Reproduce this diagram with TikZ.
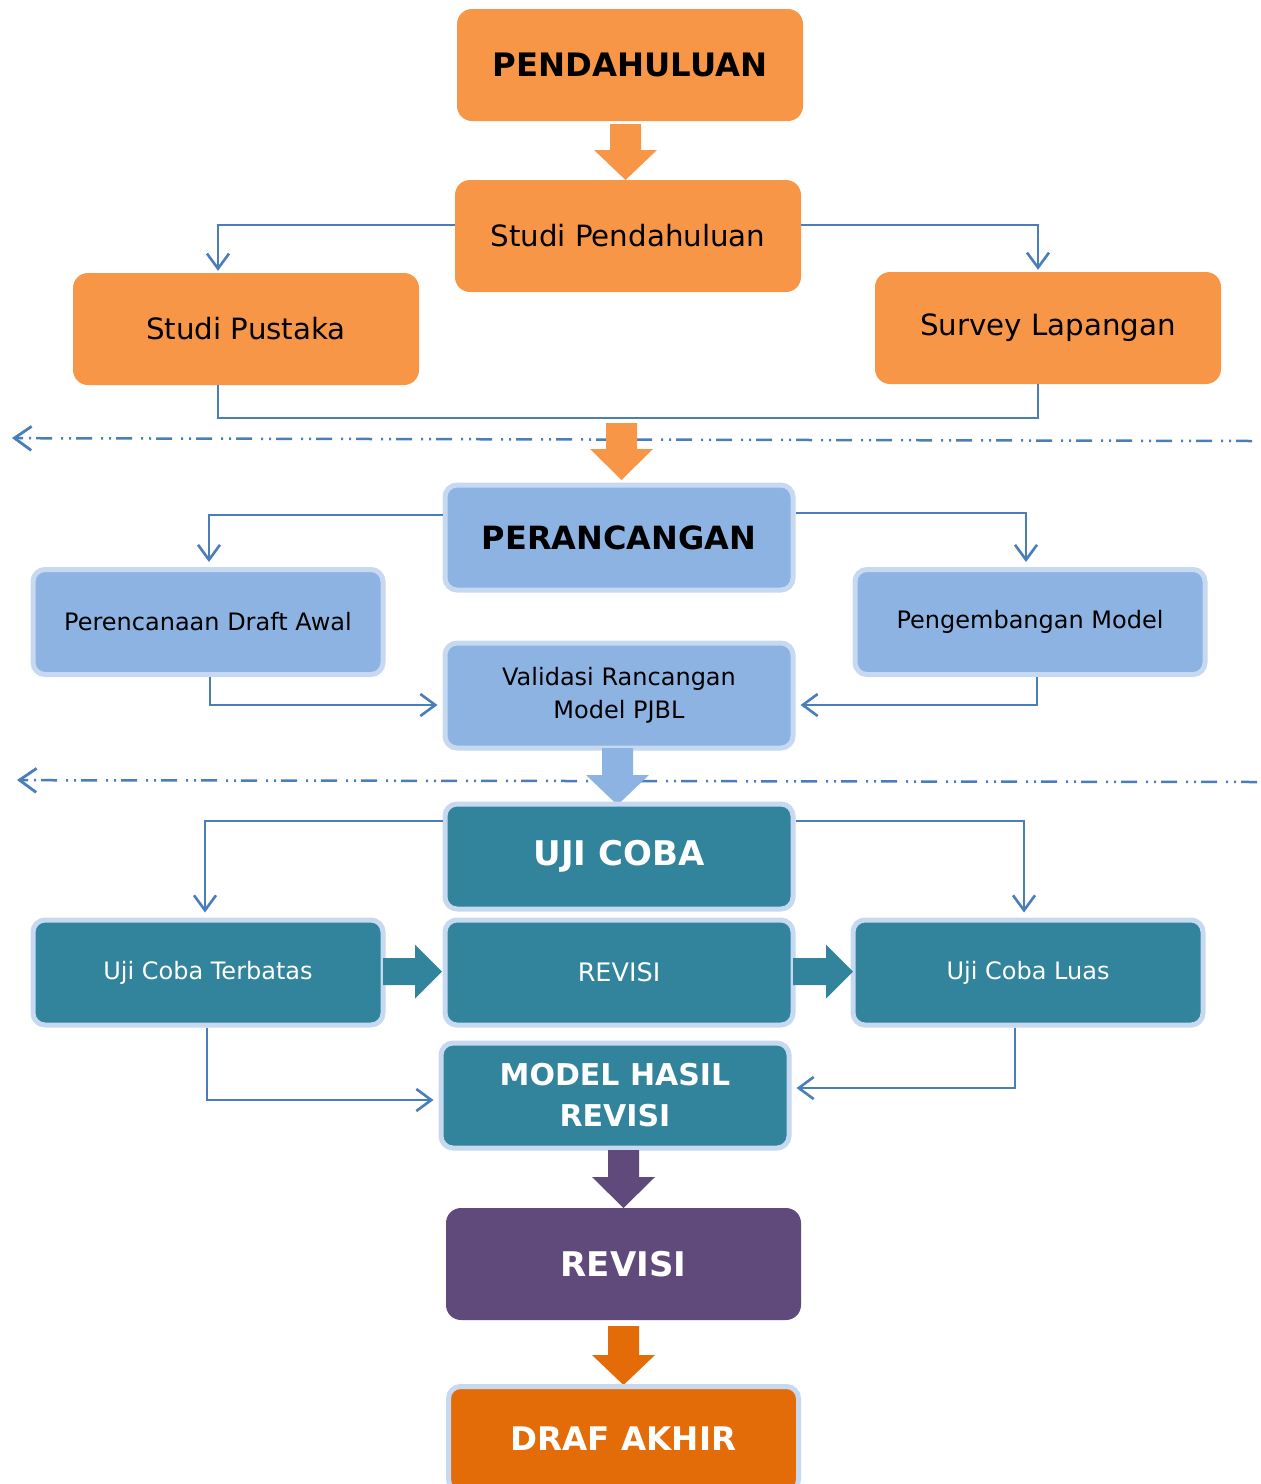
\documentclass[tikz,border=0pt]{standalone}
\usepackage{fontspec}
\setmainfont{DejaVu Sans}
\usetikzlibrary{arrows.meta}
\definecolor{cOrange}{HTML}{F79646}
\definecolor{cBlue}{HTML}{8DB3E2}
\definecolor{cBorder}{HTML}{C6D9F1}
\definecolor{cTeal}{HTML}{31849B}
\definecolor{cPurple}{HTML}{604A7B}
\definecolor{cDark}{HTML}{E36C09}
\definecolor{cLine}{HTML}{4A7EBB}
\newcommand\downblock[5]{% cx, ytop, ybot, yhead, color
  \fill[#5] ({#1-15.5},#2) -- ({#1+15.5},#2) -- ({#1+15.5},#4) -- ({#1+31.5},#4) -- (#1,#3) -- ({#1-31.5},#4) -- ({#1-15.5},#4) -- cycle;}
\newcommand\rightblock[5]{% xl, xr, xhead, cy, color
  \fill[#5] (#1,{#4-13.5}) -- (#3,{#4-13.5}) -- (#3,{#4-27}) -- (#2,#4) -- (#3,{#4+27}) -- (#3,{#4+13.5}) -- (#1,{#4+13.5}) -- cycle;}
\tikzset{
  box/.style={rounded corners=15pt, inner sep=0pt, align=center},
  orangebox/.style={box, fill=cOrange, minimum width=346pt, minimum height=112pt},
  bluebox/.style={box, rounded corners=12pt, fill=cBlue, draw=cBorder, line width=5pt, minimum width=348pt, minimum height=105pt},
  tealbox/.style={box, rounded corners=12pt, fill=cTeal, draw=cBorder, line width=5pt, minimum width=348pt, minimum height=105pt, text=white},
  bigfont/.style={font=\fontsize{32.3}{38}\selectfont\bfseries},
  midfont/.style={font=\fontsize{29.3}{34}\selectfont},
  smallfont/.style={font=\fontsize{24}{33}\selectfont},
  conn/.style={draw=cLine, line width=2.2pt, -{Straight Barb[length=15pt 0, width=22pt 0, line width=2.6pt]}},
  plain/.style={draw=cLine, line width=2.2pt},
  dashline/.style={draw=cLine, line width=2.5pt, dash pattern=on 16pt off 5pt on 2pt off 6pt on 2pt off 9pt},
  dashtip/.style={draw=cLine, line width=2.5pt, -{Straight Barb[length=17pt 0, width=24pt 0, line width=2.8pt]}}
}
\begin{document}
\begin{tikzpicture}[x=1pt,y=-1pt]
\useasboundingbox (0,0) rectangle (1261,1484);
% top section
\node[orangebox, bigfont] (pend) at (630,65) {PENDAHULUAN};
\node[orangebox, midfont] (stpend) at (628,236) {Studi Pendahuluan};
\node[orangebox, midfont] (stpus) at (246,329) {Studi Pustaka};
\node[orangebox, midfont] (survey) at (1048,328) {Survey Lapangan};
\downblock{625.5}{124}{180}{150}{cOrange}
\draw[conn, shorten >=2pt] ([yshift=11pt]stpend.west) -| ([xshift=-28pt]stpus.north);
\draw[conn, shorten >=2pt] ([yshift=11pt]stpend.east) -| ([xshift=-10pt]survey.north);
\draw[plain] ([xshift=-28pt]stpus.south) -- ++(0,33) -| ([xshift=-10pt]survey.south);
% dashed separator 1
\coordinate (d1r) at (1252,441);
\coordinate (d1l) at (12,438);
\coordinate (d1m) at (22,438.2);
\draw[dashline] (d1r) -- (d1m);
\draw[dashtip] (d1m) -- (d1l);
\downblock{621.5}{423}{480}{449}{cOrange}
% design section
\node[bluebox, font=\fontsize{32}{38}\selectfont\bfseries] (peran) at (619,537.5) {PERANCANGAN};
\node[bluebox, smallfont, minimum width=350pt] (pdraft) at (208,622) {Perencanaan Draft Awal};
\node[bluebox, smallfont, minimum width=350pt] (pmodel) at (1030,622) {Pengembangan Model};
\node[bluebox, smallfont] (valid) at (619,695.5) {Validasi Rancangan\\Model PJBL};
\draw[conn, shorten >=5pt] ([yshift=22.5pt]peran.west) -| ([xshift=1pt]pdraft.north);
\draw[conn, shorten >=5pt] ([yshift=24.5pt]peran.east) -| ([xshift=-4pt]pmodel.north);
\draw[conn, shorten >=5pt] ([xshift=2pt]pdraft.south) |- ([yshift=-9.5pt]valid.west);
\draw[conn, shorten >=5pt] ([xshift=7pt]pmodel.south) |- ([yshift=-9.5pt]valid.east);
% dashed separator 2
\coordinate (d2r) at (1257,782);
\coordinate (d2l) at (17,780);
\coordinate (d2m) at (27,780.2);
\draw[dashline] (d2r) -- (d2m);
\draw[dashtip] (d2m) -- (d2l);
\downblock{617.5}{748}{805}{775}{cBlue}
% trial section
\node[tealbox, font=\fontsize{34}{40}\selectfont\bfseries] (uji) at (619,856.5) {UJI COBA};
\node[tealbox, smallfont, minimum width=350pt] (terbatas) at (208,972.5) {Uji Coba Terbatas};
\node[tealbox, font=\fontsize{25.5}{33}\selectfont] (revisi1) at (619,972.5) {REVISI};
\node[tealbox, smallfont, minimum width=350pt] (luas) at (1028,972.5) {Uji Coba Luas};
\node[tealbox, font=\fontsize{30}{41}\selectfont\bfseries] (model) at (615,1095.5) {MODEL HASIL\\REVISI};
\draw[conn, shorten >=5pt] ([yshift=35.5pt]uji.west) -| ([xshift=-3pt]terbatas.north);
\draw[conn, shorten >=5pt] ([yshift=35.5pt]uji.east) -| ([xshift=-4pt]luas.north);
\draw[conn, shorten >=5pt] ([xshift=-1pt]terbatas.south) |- ([yshift=-4.5pt]model.west);
\draw[conn, shorten >=5pt] ([xshift=-13pt]luas.south) |- ([yshift=7.5pt]model.east);
\rightblock{383}{442}{415}{971.5}{cTeal}
\rightblock{793}{853}{826}{971.5}{cTeal}
% final section
\downblock{623.5}{1150}{1208}{1177}{cPurple}
\node[box, fill=cPurple, minimum width=355pt, minimum height=112pt, text=white, font=\fontsize{34}{40}\selectfont\bfseries] (revisi2) at (623.5,1264) {REVISI};
\downblock{623.5}{1326}{1385}{1355}{cDark}
\node[box, rounded corners=12pt, fill=cDark, draw=cBorder, line width=5pt, minimum width=350pt, minimum height=105pt, text=white, font=\fontsize{32.5}{38}\selectfont\bfseries] (draf) at (623.5,1439) {DRAF AKHIR};
\end{tikzpicture}
\end{document}
